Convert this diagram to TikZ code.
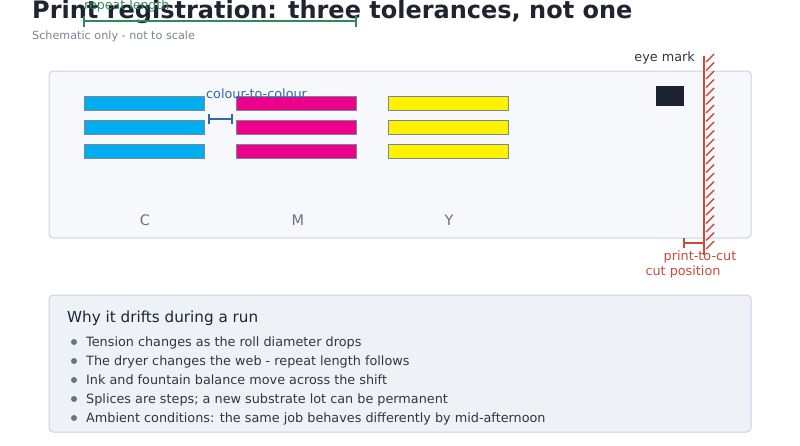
\documentclass[tikz,border=0pt]{standalone}
\usepackage{fontspec}
\setmainfont{DejaVu Sans}
\definecolor{titlec}{HTML}{1F2430}
\definecolor{subc}{HTML}{7B8494}
\definecolor{greenc}{HTML}{2E8B57}
\definecolor{bluec}{HTML}{2F68AE}
\definecolor{redc}{HTML}{CC4A3C}
\definecolor{panel1}{HTML}{F7F8FC}
\definecolor{panel2}{HTML}{EEF1F6}
\definecolor{panelb}{HTML}{CBD2E0}
\definecolor{barb}{HTML}{7A8896}
\definecolor{cyanc}{HTML}{00AEEF}
\definecolor{magc}{HTML}{EC008C}
\definecolor{yelc}{HTML}{FFF200}
\definecolor{textc}{HTML}{33363D}
\definecolor{labc}{HTML}{6B7280}
\definecolor{markc}{HTML}{1C2330}
\begin{document}
\begin{tikzpicture}[x=1pt,y=-1pt,
  panel/.style={draw=panelb,line width=1pt,rounded corners=4pt},
  bar/.style={draw=barb,line width=0.8pt},
  txt/.style={inner sep=0pt,anchor=base west},
  lab/.style={font=\fontsize{12.8}{14}\selectfont},
  dim/.style={line width=2pt},
  bul/.style={fill=labc,draw=none}]
\useasboundingbox (0,0) rectangle (800,445);
% title
\node[txt,text=titlec,font=\fontsize{24}{28}\selectfont\bfseries] (title) at (32,18.5) {Print registration: three tolerances, not one};
\node[txt,text=subc,font=\fontsize{11.2}{13}\selectfont] (sub) at (32,39) {Schematic only - not to scale};
% repeat length bracket
\coordinate (rl1) at (84,21);
\coordinate (rl2) at (356,21);
\draw[greenc,dim] (rl1) -- (rl2);
\draw[greenc,dim] ([yshift=-6]rl1) -- ([yshift=5]rl1);
\draw[greenc,dim] ([yshift=-6]rl2) -- ([yshift=5]rl2);
\node[txt,text=greenc,font=\fontsize{12.6}{14}\selectfont] (rllab) at (84,9) {repeat length};
% upper panel
\draw[panel,fill=panel1] (49,71) rectangle (751,238);
% bars
\foreach \y in {96,120,144}{
  \draw[bar,fill=cyanc] (84,\y) rectangle (204,\y+14);
  \draw[bar,fill=magc] (236,\y) rectangle (356,\y+14);
  \draw[bar,fill=yelc] (388,\y) rectangle (508,\y+14);
}
\node[text=labc,font=\fontsize{14.5}{16}\selectfont,inner sep=0pt] (lc) at (145,220) {C};
\node[text=labc,font=\fontsize{14.5}{16}\selectfont,inner sep=0pt] (lm) at (298,220) {M};
\node[text=labc,font=\fontsize{14.5}{16}\selectfont,inner sep=0pt] (ly) at (449,220) {Y};
% colour-to-colour
\coordinate (cc1) at (209,119);
\coordinate (cc2) at (232,119);
\draw[bluec,dim] (cc1) -- (cc2);
\draw[bluec,dim] ([yshift=-5]cc1) -- ([yshift=5]cc1);
\draw[bluec,dim] ([yshift=-5]cc2) -- ([yshift=5]cc2);
\node[txt,text=bluec,lab] (cclab) at (206,98.5) {colour-to-colour};
% eye mark
\node[fill=markc,draw=none,minimum width=28pt,minimum height=20pt,inner sep=0pt] (eye) at (670,96) {};
\node[txt,anchor=base east,text=textc,lab] (eyelab) at (695,61.5) {eye mark};
% cut line
\coordinate (cutT) at (704,56);
\coordinate (cutB) at (704,255);
\draw[redc,line width=2pt] (cutT) -- (cutB);
\foreach \y in {58,66.5,...,250}{
  \draw[redc,line width=1.4pt] (706,\y+4) -- (714,\y-4);
}
% print-to-cut
\coordinate (pc1) at (684,243);
\coordinate (pc2) at (704,243);
\draw[redc,dim] (pc1) -- (pc2);
\draw[redc,dim] ([yshift=-5]pc1) -- ([yshift=5]pc1);
\node[text=redc,lab,inner sep=0pt] (pclab) at (700,257) {print-to-cut};
\node[text=redc,lab,inner sep=0pt] (cutlab) at (683,272) {cut position};
% lower panel
\draw[panel,fill=panel2] (49,295) rectangle (751,432);
\node[txt,text=titlec,font=\fontsize{15.2}{17}\selectfont] (why) at (67,322) {Why it drifts during a run};
\foreach \y/\t [count=\i] in {342/{Tension changes as the roll diameter drops},
  361/{The dryer changes the web - repeat length follows},
  380/{Ink and fountain balance move across the shift},
  399/{Splices are steps; a new substrate lot can be permanent},
  418/{Ambient conditions: the same job behaves differently by mid-afternoon}}{
  \fill[bul] (74,\y) circle (3);
  \node[txt,text=textc,font=\fontsize{12.8}{14}\selectfont] (b\i) at (86,\y+4.6) {\t};
}
\end{tikzpicture}
\end{document}
